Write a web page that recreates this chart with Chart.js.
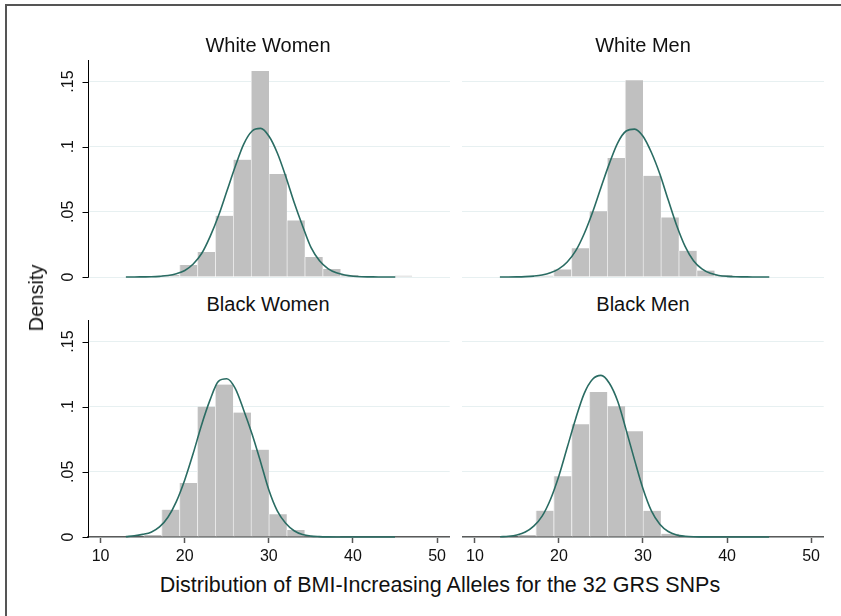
<!DOCTYPE html>
<html>
<head>
<meta charset="utf-8">
<script src="https://cdn.jsdelivr.net/npm/chart.js@4.4.0/dist/chart.umd.min.js"></script>
<style>
  body { margin: 0; background: #fff; font-family: "Liberation Sans", Arial, sans-serif; }
  #page { position: relative; width: 841px; height: 616px; overflow: hidden; background: #fff; }
  #frame { position: absolute; left: 5px; top: 4px; width: 840px; height: 616px;
           border-top: 2px solid #555; border-left: 2px solid #555; box-sizing: border-box; }
  canvas { position: absolute; }
  .lbl { position: absolute; color: #111; white-space: nowrap; line-height: 1;
         transform: translate(-50%, -50%); }
</style>
</head>
<body>
<div id="page">
  <div id="frame"></div>
  <canvas id="ww"></canvas>
  <canvas id="wm"></canvas>
  <canvas id="bw"></canvas>
  <canvas id="bm"></canvas>
</div>
<script>
// histogram bins (mid points, width 2.125 starting at 13)
const binMids = [14.0625, 16.1875, 18.3125, 20.4375, 22.5625, 24.6875, 26.8125, 28.9375,
                 31.0625, 33.1875, 35.3125, 37.4375, 39.5625, 41.6875, 43.8125, 45.9375];

const wwDensity = [0, 0.0005, 0.0015, 0.0092, 0.0191, 0.047, 0.090, 0.158,
                   0.079, 0.0434, 0.0153, 0.0061, 0.0015, 0, 0, 0.001];
const wmDensity = [0, 0.0005, 0.001, 0.0058, 0.022, 0.0504, 0.0914, 0.151,
                   0.0776, 0.0457, 0.0201, 0.0049, 0.0015, 0, 0, 0];
const bwDensity = [0, 0.0015, 0.021, 0.0415, 0.100, 0.117, 0.0955, 0.067,
                   0.0175, 0.0053, 0.0005, 0.0008, 0, 0, 0, 0];
const bmDensity = [0, 0.0015, 0.0202, 0.0467, 0.0865, 0.1113, 0.1004, 0.0812,
                   0.0201, 0.0025, 0, 0, 0, 0, 0, 0];

// normal density curves
const curveX = [13, 14, 15, 16, 17, 18, 19, 20, 21, 22, 23, 24, 25, 26, 27, 28, 29,
                30, 31, 32, 33, 34, 35, 36, 37, 38, 39, 40, 41, 42, 43, 44, 45];
const wwCurve = [0, 0, 0.0001, 0.0002, 0.0005, 0.0011, 0.0025, 0.0050, 0.0100, 0.0180, 0.0310,
                 0.0470, 0.0660, 0.0850, 0.1020, 0.1120, 0.1140, 0.1080, 0.0950, 0.0770, 0.0570,
                 0.0390, 0.0225, 0.0125, 0.0065, 0.0032, 0.0015, 0.0006, 0.0002, 0.0001, 0, 0, 0];
const wmCurve = [0, 0, 0.0001, 0.0003, 0.0007, 0.0015, 0.0032, 0.0062, 0.0115, 0.0200, 0.0330,
                 0.0495, 0.0685, 0.0870, 0.1030, 0.1120, 0.1135, 0.1080, 0.0955, 0.0790, 0.0590,
                 0.0395, 0.0235, 0.0125, 0.0062, 0.0028, 0.0012, 0.0005, 0.0002, 0.0001, 0, 0, 0];
const bwCurve = [0.0003, 0.0009, 0.0020, 0.0037, 0.0077, 0.0152, 0.0272, 0.0438, 0.0640, 0.0860,
                 0.1050, 0.1194, 0.1214, 0.1140, 0.0975, 0.0790, 0.0580, 0.0360, 0.0200, 0.0105,
                 0.0048, 0.0019, 0.0007, 0.0003, 0.0001, 0, 0, 0, 0, 0, 0, 0, 0];
const bmCurve = [0.0002, 0.0006, 0.0016, 0.0038, 0.0083, 0.0160, 0.0290, 0.0470, 0.0690, 0.0910,
                 0.1100, 0.1210, 0.1240, 0.1180, 0.1040, 0.0820, 0.0590, 0.0370, 0.0200, 0.0098,
                 0.0042, 0.0016, 0.0006, 0.0002, 0.0001, 0, 0, 0, 0, 0, 0, 0, 0];

const xTicks = [10, 20, 30, 40, 50];
const yTicks = [0, 0.05, 0.1, 0.15];
const yTickLabels = ['0', '.05', '.1', '.15'];

const panelTitles = ['White Women', 'White Men', 'Black Women', 'Black Men'];
const xTitle = 'Distribution of BMI-Increasing Alleles for the 32 GRS SNPs';
const yTitle = 'Density';

const FONT = '"Liberation Sans", Arial, sans-serif';

// y axis line, tick marks and rotated tick labels, placed with the chart's own y scale
const yAxisPlugin = {
    id: 'yAxisDeco',
    afterDraw(chart, args, opts) {
        if (!opts.show) return;
        const s = chart.scales.y;
        const ctx = chart.ctx;
        const ax = Math.round(s.right) + 0.5;
        ctx.save();
        ctx.strokeStyle = '#000';
        ctx.lineWidth = 1;
        ctx.beginPath();
        ctx.moveTo(ax, s.top);
        ctx.lineTo(ax, s.bottom + 0.5);
        yTicks.forEach(v => {
            const py = Math.round(s.getPixelForValue(v)) + 0.5;
            ctx.moveTo(ax - 6, py);
            ctx.lineTo(ax, py);
        });
        ctx.stroke();

        ctx.font = '16px ' + FONT;
        ctx.fillStyle = '#111';
        ctx.textAlign = 'center';
        ctx.textBaseline = 'middle';
        yTicks.forEach((v, i) => {
            ctx.save();
            ctx.translate(opts.x, s.getPixelForValue(v));
            ctx.rotate(-Math.PI / 2);
            ctx.fillText(yTickLabels[i], 0, 1);
            ctx.restore();
        });
        ctx.restore();
    }
};

function makePanel(id, bars, curve, left, top, w, h, padBottom, showY, showX) {
    const cv = document.getElementById(id);
    cv.width = w; cv.height = h;
    cv.style.left = left + 'px';
    cv.style.top = top + 'px';
    cv.style.width = w + 'px';
    cv.style.height = h + 'px';

    return new Chart(cv.getContext('2d'), {
        type: 'bar',
        data: {
            datasets: [
                {
                    type: 'line',
                    data: curveX.map((x, i) => ({ x: x, y: curve[i] })),
                    borderColor: '#2a6c63',
                    borderWidth: 1.6,
                    pointRadius: 0,
                    cubicInterpolationMode: 'monotone',
                    fill: false,
                    clip: 4,
                    order: 0
                },
                {
                    type: 'bar',
                    data: binMids.map((x, i) => ({ x: x, y: bars[i] })),
                    backgroundColor: '#c0c0c0',
                    borderColor: '#ebebeb',
                    borderWidth: { left: 1, right: 0, top: 0, bottom: 0 },
                    borderSkipped: false,
                    barPercentage: 1,
                    categoryPercentage: 1,
                    order: 1
                }
            ]
        },
        options: {
            responsive: false,
            animation: false,
            devicePixelRatio: 1,
            layout: { padding: { top: 5, bottom: padBottom, left: 0, right: 0 } },
            plugins: {
                legend: { display: false },
                tooltip: { enabled: false },
                yAxisDeco: { show: showY, x: 28 }
            },
            scales: {
                x: {
                    type: 'linear',
                    min: 8.5,
                    max: 51.5,
                    offset: false,
                    display: showX,
                    afterBuildTicks: s => { s.ticks = xTicks.map(v => ({ value: v })); },
                    afterFit: s => { if (showX) s.height = 30; },
                    grid: { offset: false, drawOnChartArea: false, drawTicks: true, tickLength: 6,
                            tickColor: '#555', tickWidth: 1.5 },
                    border: { display: true, color: '#5a5a5a', width: 1.6 },
                    ticks: { font: { family: FONT, size: 16 }, color: '#111', padding: 4,
                             maxRotation: 0, autoSkip: false }
                },
                y: {
                    type: 'linear',
                    min: 0,
                    max: 0.1665,
                    afterBuildTicks: s => { s.ticks = yTicks.map(v => ({ value: v })); },
                    afterFit: s => { s.width = showY ? 48 : 0; },
                    ticks: { display: false },
                    grid: { color: '#e7f0f1', lineWidth: 1, drawTicks: false },
                    border: { display: false }
                }
            }
        },
        plugins: [yAxisPlugin]
    });
}

makePanel('ww', wwDensity, wwCurve, 40, 55, 410, 236, 14, true, false);
makePanel('wm', wmDensity, wmCurve, 462, 55, 362, 236, 14, false, false);
makePanel('bw', bwDensity, bwCurve, 40, 315, 410, 252, 0, true, true);
makePanel('bm', bmDensity, bmCurve, 462, 315, 362, 252, 0, false, true);

// texts
const page = document.getElementById('page');
function addText(txt, x, y, size, rotate) {
    const d = document.createElement('div');
    d.className = 'lbl';
    d.textContent = txt;
    d.style.left = x + 'px';
    d.style.top = y + 'px';
    d.style.fontSize = size + 'px';
    if (rotate) d.style.transform = 'translate(-50%, -50%) rotate(-90deg)';
    page.appendChild(d);
}
addText(panelTitles[0], 268, 45, 20);
addText(panelTitles[1], 643, 45, 20);
addText(panelTitles[2], 268, 304, 20);
addText(panelTitles[3], 643, 304, 20);
addText(xTitle, 440, 586, 21.5);
addText(yTitle, 36, 298, 20, true);
</script>
</body>
</html>
